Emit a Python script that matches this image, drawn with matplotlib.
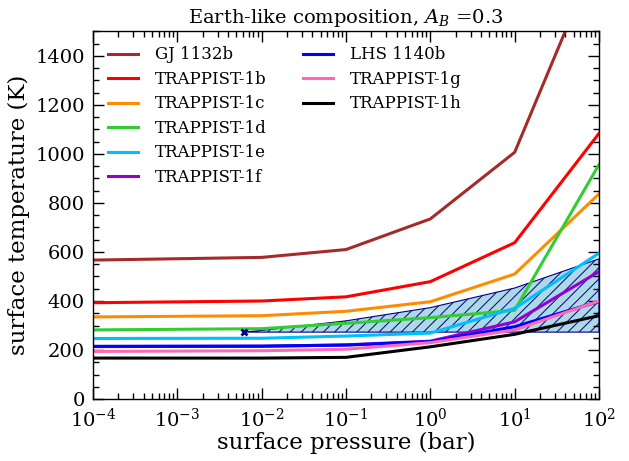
import numpy as np
import matplotlib
matplotlib.use("Agg")
import matplotlib.pyplot as plt
from matplotlib.lines import Line2D
from matplotlib.ticker import MultipleLocator, LogLocator, LogFormatterMathtext, NullFormatter

plt.rcParams["font.family"] = "serif"
plt.rcParams["font.serif"] = ["DejaVu Serif"]
plt.rcParams["mathtext.fontset"] = "dejavuserif"
plt.rcParams["hatch.linewidth"] = 0.7

# surface pressure grid (bar)
pressure = [1e-4, 1e-2, 1e-1, 1.0, 10.0, 100.0]

planets = ["GJ 1132b", "TRAPPIST-1b", "TRAPPIST-1c", "TRAPPIST-1d",
           "TRAPPIST-1e", "TRAPPIST-1f", "LHS 1140b", "TRAPPIST-1g", "TRAPPIST-1h"]
colors = ["brown", "red", "darkorange", "limegreen", "deepskyblue",
          "darkviolet", "blue", "hotpink", "black"]

# surface temperature (K) for each planet on the pressure grid
T_gj1132b = [567, 578, 610, 735, 1007, 1830]
T_t1b = [393, 400, 417, 479, 638, 1084]
T_t1c = [335, 340, 358, 397, 510, 837]
T_t1d = [282, 287, 309, 332, 362, 957]
T_t1e = [247, 248, 257, 269, 370, 595]
T_t1f = [214, 215, 221, 236, 315, 520]
T_lhs1140b = [215, 216, 220, 234, 295, 398]
T_t1g = [194, 197, 203, 230, 282, 400]
T_t1h = [167, 167, 170, 213, 264, 340]
temperatures = [T_gj1132b, T_t1b, T_t1c, T_t1d, T_t1e, T_t1f, T_lhs1140b, T_t1g, T_t1h]

# liquid water region: triple point up to 100 bar, bounded by freezing and boiling
water_p = [0.0061, 0.01, 0.1, 1.0, 10.0, 100.0]
water_T_boil = [273, 280, 319, 373, 453, 572]
water_T_freeze = 273
triple_p, triple_T = 0.0061, 273

fig = plt.figure(figsize=(6.29, 4.61), dpi=100)
ax = fig.add_axes([93 / 629, 62 / 461, 506 / 629, 367.5 / 461])

ax.fill_between(water_p, water_T_freeze, water_T_boil, facecolor="lightblue",
                edgecolor="navy", hatch="///", linewidth=0.8, zorder=1)
ax.plot([triple_p], [triple_T], marker="x", color="navy", ms=5, mew=2, zorder=3)

handles = []
for name, col, T in zip(planets, colors, temperatures):
    line, = ax.plot(pressure, T, color=col, lw=2.2, label=name, zorder=2)
    handles.append(line)

ax.set_xscale("log")
ax.set_xlim(1e-4, 1e2)
ax.set_ylim(0, 1500)

ax.xaxis.set_major_locator(LogLocator(base=10, numticks=10))
ax.xaxis.set_major_formatter(LogFormatterMathtext())
ax.xaxis.set_minor_locator(LogLocator(base=10, subs=np.arange(2, 10), numticks=20))
ax.xaxis.set_minor_formatter(NullFormatter())
ax.yaxis.set_major_locator(MultipleLocator(200))
ax.yaxis.set_minor_locator(MultipleLocator(50))

ax.tick_params(which="both", direction="in", top=True, right=True, labelsize=14, pad=6)
ax.tick_params(which="major", length=8, width=1)
ax.tick_params(which="minor", length=4, width=1)
for s in ax.spines.values():
    s.set_linewidth(1)

ax.set_xlabel("surface pressure (bar)", fontsize=16.5, labelpad=1)
ax.set_ylabel("surface temperature (K)", fontsize=16.5, labelpad=4)
ax.set_title("Earth-like composition, $A_B$ =0.3", fontsize=14, pad=6)

# six entries in the first column, three in the second
blank = [Line2D([], [], color="none") for _ in range(3)]
ax.legend(handles + blank, planets + [""] * 3, loc="upper left", ncol=2,
          frameon=False, fontsize=12, handlelength=1.8, handletextpad=1.0,
          columnspacing=2.2, labelspacing=0.45)

fig.savefig("out.png", dpi=100)
